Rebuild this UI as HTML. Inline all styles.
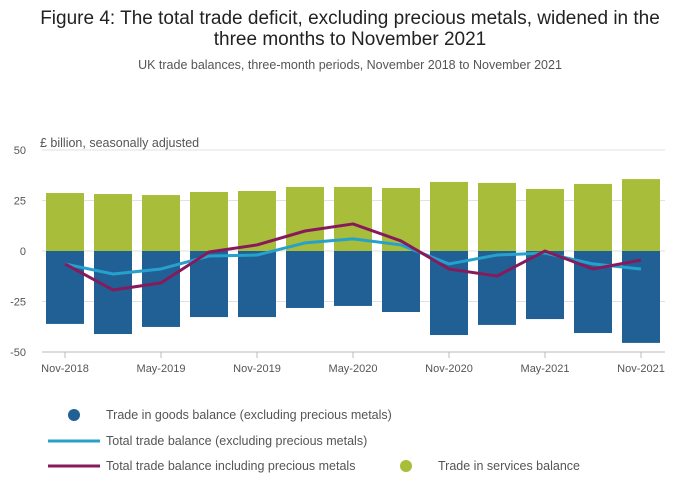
<!DOCTYPE html>
<html><head><meta charset="utf-8"><style>
body{margin:0;background:#fff;font-family:"Liberation Sans",sans-serif;}
#wrap{position:relative;width:700px;height:502px;overflow:hidden}
</style></head><body>
<div id="wrap">
<svg id="chart" width="700" height="502">
<text x="350" y="24" text-anchor="middle" font-size="19" fill="#222">Figure 4: The total trade deficit, excluding precious metals, widened in the</text>
<text x="350" y="45" text-anchor="middle" font-size="19" fill="#222">three months to November 2021</text>
<text x="350" y="69" text-anchor="middle" font-size="12.5" fill="#555">UK trade balances, three-month periods, November 2018 to November 2021</text>
<text x="40" y="147" font-size="12.5" fill="#555">£ billion, seasonally adjusted</text>
<g id="grid"></g><g id="bars"></g><g id="lines"></g><g id="axes"></g>
<g font-size="12.5" fill="#555">
<circle cx="74" cy="415" r="6" fill="#206095"/>
<text x="106" y="419">Trade in goods balance (excluding precious metals)</text>
<line x1="48" y1="441" x2="100" y2="441" stroke="#27a0cc" stroke-width="3"/>
<text x="106" y="445">Total trade balance (excluding precious metals)</text>
<line x1="48" y1="466" x2="100" y2="466" stroke="#871a5b" stroke-width="3"/>
<text x="106" y="470">Total trade balance including precious metals</text>
<circle cx="406" cy="466" r="6" fill="#a8bd3a"/>
<text x="438" y="470">Trade in services balance</text>
</g>
</svg></div>
<script>
const categories=["Nov-2018","Feb-2019","May-2019","Aug-2019","Nov-2019","Feb-2020","May-2020","Aug-2020","Nov-2020","Feb-2021","May-2021","Aug-2021","Nov-2021"];
const services=[28.7,28.2,27.7,29.2,29.7,31.7,31.7,31.2,34.2,33.7,30.7,33.2,35.6];
const goods=[-36.1,-41.1,-37.6,-32.7,-32.7,-28.2,-27.2,-30.2,-41.6,-36.6,-33.7,-40.6,-45.5];
const totalExcl=[-6.4,-11.4,-8.9,-2.5,-2,4,6,3,-6.4,-2,-1,-6.4,-8.9];
const totalIncl=[-6.4,-19.3,-15.8,-0.5,3,9.9,13.4,5,-8.9,-12.4,0,-8.9,-4.5];
const yTicks=[50,25,0,-25,-50];
const xLabelIdx=[0,2,4,6,8,10,12];
const NS="http://www.w3.org/2000/svg";
const x0=42,step=48,bw=38;
const xc=i=>x0+23+i*step;
const y=v=>251-v*2.02;
function mk(tag,attrs,parent){const e=document.createElementNS(NS,tag);for(const k in attrs)e.setAttribute(k,attrs[k]);document.getElementById(parent).appendChild(e);return e;}
yTicks.forEach(t=>{
  const l=mk("line",{x1:x0,x2:665,y1:y(t),y2:y(t),stroke:"#e2e2e2","stroke-width":1},"grid");
  
  
  const tx=mk("text",{x:26,y:y(t)+4,"text-anchor":"end","font-size":11,fill:"#555"},"axes");
  tx.textContent=t;
  
  
});
categories.forEach((c,i)=>{
  const s=mk("rect",{x:xc(i)-bw/2,y:y(services[i]),width:bw,height:y(0)-y(services[i]),fill:"#a8bd3a"},"bars");
  
  
  const g=mk("rect",{x:xc(i)-bw/2,y:y(0),width:bw,height:y(goods[i])-y(0),fill:"#206095"},"bars");
  
  
});
function line(arr,color,name){
  const p=mk("polyline",{points:arr.map((v,i)=>xc(i)+","+y(v)).join(" "),fill:"none",stroke:color,"stroke-width":3,"stroke-linejoin":"round"},"lines");
  
  
}
line(totalExcl,"#27a0cc","line-total-excl");
line(totalIncl,"#871a5b","line-total-incl");
const ax=mk("line",{x1:x0,x2:665,y1:y(-50),y2:y(-50),stroke:"#bbb"},"axes");


xLabelIdx.forEach(i=>{
  const tk=mk("line",{x1:xc(i),x2:xc(i),y1:y(-50),y2:y(-50)+6,stroke:"#bbb"},"axes");
  
  
  const t=mk("text",{x:xc(i),y:372,"text-anchor":"middle","font-size":11,fill:"#555"},"axes");
  t.textContent=categories[i];
  
  
});
</script>
</body></html>
